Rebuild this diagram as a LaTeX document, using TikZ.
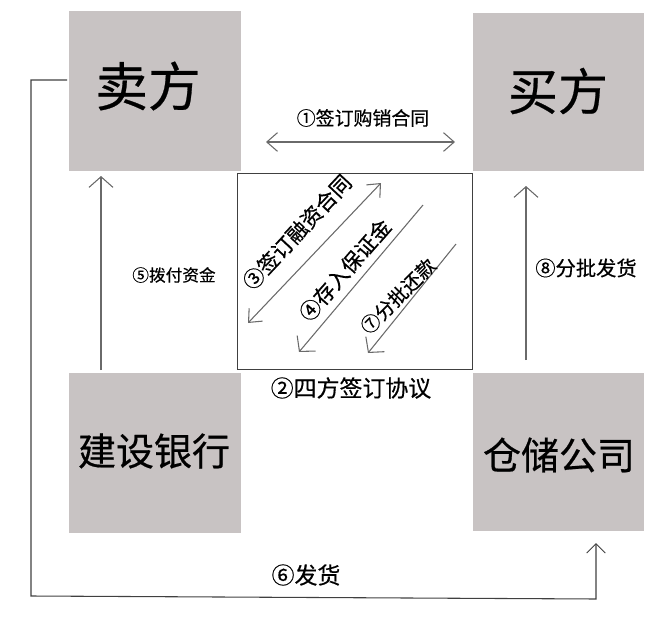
\documentclass[tikz,border=0pt]{standalone}
\usepackage{fontspec}
\setmainfont{Noto Sans CJK SC}[RawFeature={embolden=0.5}]
\usetikzlibrary{arrows.meta}
\definecolor{boxgrey}{HTML}{C8C3C3}
\definecolor{linegrey}{HTML}{6A6A6A}
\tikzset{
  party/.style={fill=boxgrey,draw=none,inner sep=0pt,anchor=north west},
  flow/.style={draw=linegrey,line width=1.1pt,-{Straight Barb[length=8pt,width=18pt,line width=0.8pt]}},
  flowboth/.style={draw=linegrey,line width=0.8pt,{Straight Barb[length=8pt,width=14pt]}-{Straight Barb[length=8pt,width=14pt]}},
  outline/.style={draw=black!75,line width=0.8pt},
  lab/.style={inner sep=0pt,text=black},
}
\begin{document}
\begin{tikzpicture}[x=0.75pt,y=-0.75pt]
\useasboundingbox (0,0) rectangle (662,618);
\node[party,minimum width=129pt,minimum height=120pt] (seller) at (69,11) {};
\node[party,minimum width=128.25pt,minimum height=118.5pt] (buyer) at (473,13) {};
\node[party,minimum width=129pt,minimum height=120pt] (bank) at (69,373) {};
\node[party,minimum width=128.25pt,minimum height=118.5pt] (store) at (473,373) {};
\node[lab,font=\fontsize{39.5}{39.5}\selectfont] (tseller) at (148,86) {卖方};
\node[lab,font=\fontsize{37.5}{37.5}\selectfont] (tbuyer) at (558,91) {买方};
\node[lab,font=\fontsize{28.5}{28.5}\selectfont] (tbank) at (154,451) {建设银行};
\node[lab,font=\fontsize{28.5}{28.5}\selectfont] (tstore) at (559,455) {仓储公司};
\node[outline,inner sep=0pt,minimum width=176.25pt,minimum height=147pt,anchor=north west] (centre) at (237,173) {};
% free ends
\coordinate (a1) at (266,142); \coordinate (a2) at (455,142);
\coordinate (b1) at (101,370); \coordinate (b2) at (101,176);
\coordinate (c1) at (526,360); \coordinate (c2) at (526,186);
\coordinate (d1) at (248,323); \coordinate (d2) at (381,183);
\coordinate (e1) at (423,205); \coordinate (e2) at (299,352);
\coordinate (f1) at (456,244); \coordinate (f2) at (368,353);
\coordinate (g1) at (67,80); \coordinate (g2) at (31,80); \coordinate (g3) at (31,596);
\coordinate (g4) at (596,599); \coordinate (g5) at (596,543);
\draw[flowboth] (a1) -- (a2);
\draw[flow] (b1) -- (b2);
\draw[flow] (c1) -- (c2);
\draw[flowboth] (d1) -- (d2);
\draw[flow,line width=0.8pt] (e1) -- (e2);
\draw[flow,line width=0.8pt] (f1) -- (f2);
\draw[outline,-{Straight Barb[length=7pt,width=14pt,line width=0.7pt]}] (g1) -- (g2) -- (g3) -- (g4) -- (g5);
\node[lab,font=\fontsize{14.2}{14.2}\selectfont] (l1) at (363,118) {①签订购销合同};
\node[lab,font=\fontsize{17.2}{17.2}\selectfont] (l2) at (351,388) {②四方签订协议};
\node[lab,font=\fontsize{15.8}{15.8}\selectfont,rotate=47] (l3) at (297,232) {③签订融资合同};
\node[lab,font=\fontsize{15.8}{15.8}\selectfont,rotate=49] (l4) at (345,270) {④存入保证金};
\node[lab,font=\fontsize{14.5}{14.5}\selectfont,rotate=45] (l7) at (398,296) {⑦分批还款};
\node[lab,font=\fontsize{12.5}{12.5}\selectfont] (l5) at (174,275) {⑤拨付资金};
\node[lab,font=\fontsize{15.2}{15.2}\selectfont] (l8) at (586,268) {⑧分批发货};
\node[lab,font=\fontsize{17.2}{17.2}\selectfont] (l6) at (306,575) {⑥发货};
\end{tikzpicture}
\end{document}
